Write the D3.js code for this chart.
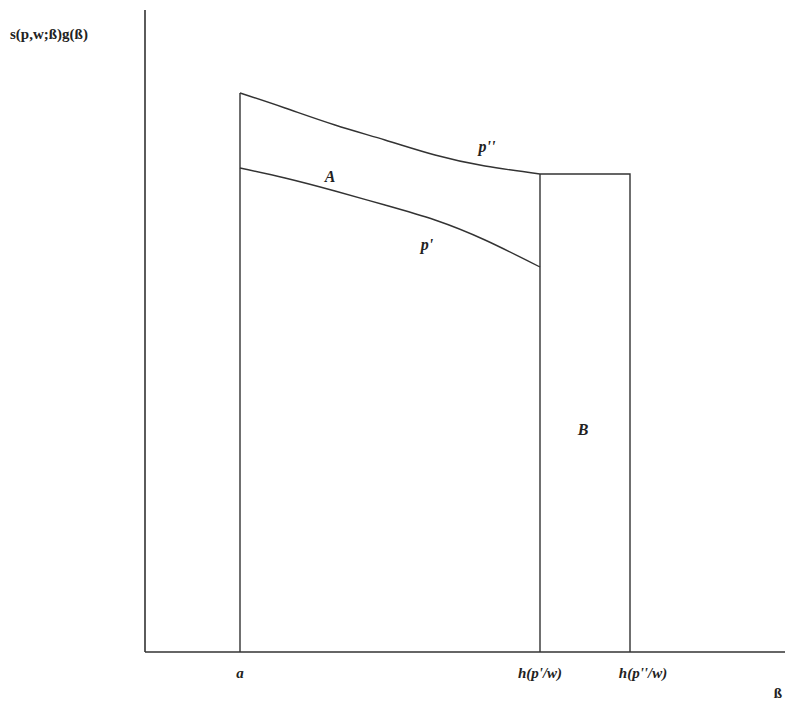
<!DOCTYPE html>
<html>
<head>
<meta charset="utf-8">
<script src="https://cdn.jsdelivr.net/npm/d3@7"></script>
<style>
  html, body { margin: 0; padding: 0; background: #fff; }
  svg { display: block; }
  text { font-family: "Liberation Serif", "DejaVu Serif", serif; fill: #222; }
</style>
</head>
<body>
<svg id="chart" width="785" height="706"></svg>
<script>
// ---- data (beta on x, s(p,w;ß)g(ß) on y, arbitrary units) ----
const betaPoints = [95, 140, 190, 240, 290, 340, 395];
const curvePdouble = [559, 544, 527, 512, 497, 486, 478]; // p''
const curvePsingle = [484, 474, 461, 447, 432, 412, 385]; // p'
const betaA = 95;        // a
const betaH1 = 395;      // h(p'/w)
const betaH2 = 485;      // h(p''/w)
const rectTop = 478;     // level of p'' beyond h(p'/w)
const xTickLabels = ["a", "h(p'/w)", "h(p''/w)"];
const xTickValues = [betaA, betaH1, betaH2];
const yAxisLabel = "s(p,w;ß)g(ß)";
const xAxisLabel = "ß";

const svg = d3.select("#chart");
const x = d3.scaleLinear().domain([0, 640]).range([145, 785]);
const y = d3.scaleLinear().domain([0, 642]).range([652, 10]);
const stroke = "#333";

// axes
svg.append("line").attr("x1", x(0)).attr("x2", x(0)).attr("y1", y(642)).attr("y2", y(0))
  .attr("stroke", stroke).attr("stroke-width", 1.6);
svg.append("line").attr("x1", x(0)).attr("x2", x(640)).attr("y1", y(0)).attr("y2", y(0))
  .attr("stroke", stroke).attr("stroke-width", 1.6);

const line = d3.line().x(d => x(d[0])).y(d => y(d[1])).curve(d3.curveNatural);

// vertical at a
svg.append("line").attr("x1", x(betaA)).attr("x2", x(betaA))
  .attr("y1", y(0)).attr("y2", y(curvePdouble[0]))
  .attr("stroke", stroke).attr("stroke-width", 1.4);
// vertical at h(p'/w)
svg.append("line").attr("x1", x(betaH1)).attr("x2", x(betaH1))
  .attr("y1", y(0)).attr("y2", y(rectTop))
  .attr("stroke", stroke).attr("stroke-width", 1.4);
// rectangle top and right side
svg.append("path")
  .attr("d", `M${x(betaH1)},${y(rectTop)}H${x(betaH2)}V${y(0)}`)
  .attr("fill", "none").attr("stroke", stroke).attr("stroke-width", 1.4);

// curves
svg.append("path").datum(betaPoints.map((b, i) => [b, curvePdouble[i]]))
  .attr("d", line).attr("fill", "none").attr("stroke", stroke).attr("stroke-width", 1.4);
svg.append("path").datum(betaPoints.map((b, i) => [b, curvePsingle[i]]))
  .attr("d", line).attr("fill", "none").attr("stroke", stroke).attr("stroke-width", 1.4);

// labels
svg.append("text").attr("x", 10).attr("y", 39).attr("font-weight", "bold")
  .attr("font-size", 15).text(yAxisLabel);
svg.append("text").attr("x", 778).attr("y", 698).attr("text-anchor", "middle")
  .attr("font-weight", "bold").attr("font-size", 15).text(xAxisLabel);

xTickValues.forEach((v, i) => {
  svg.append("text").attr("x", x(v) + (i === 2 ? 13 : 0)).attr("y", 678)
    .attr("text-anchor", "middle").attr("font-weight", "bold").attr("font-style", "italic")
    .attr("font-size", 15).text(xTickLabels[i]);
});

const inLabels = [
  {t: "p''", b: 342, v: 500, anchor: "middle"},
  {t: "A", b: 185, v: 470, anchor: "middle"},
  {t: "p'", b: 282, v: 402, anchor: "middle"},
  {t: "B", b: 438, v: 217, anchor: "middle"}
];
inLabels.forEach(d => {
  svg.append("text").attr("x", x(d.b)).attr("y", y(d.v))
    .attr("text-anchor", d.anchor).attr("font-weight", "bold").attr("font-style", "italic")
    .attr("font-size", 16).text(d.t);
});
</script>
</body>
</html>
